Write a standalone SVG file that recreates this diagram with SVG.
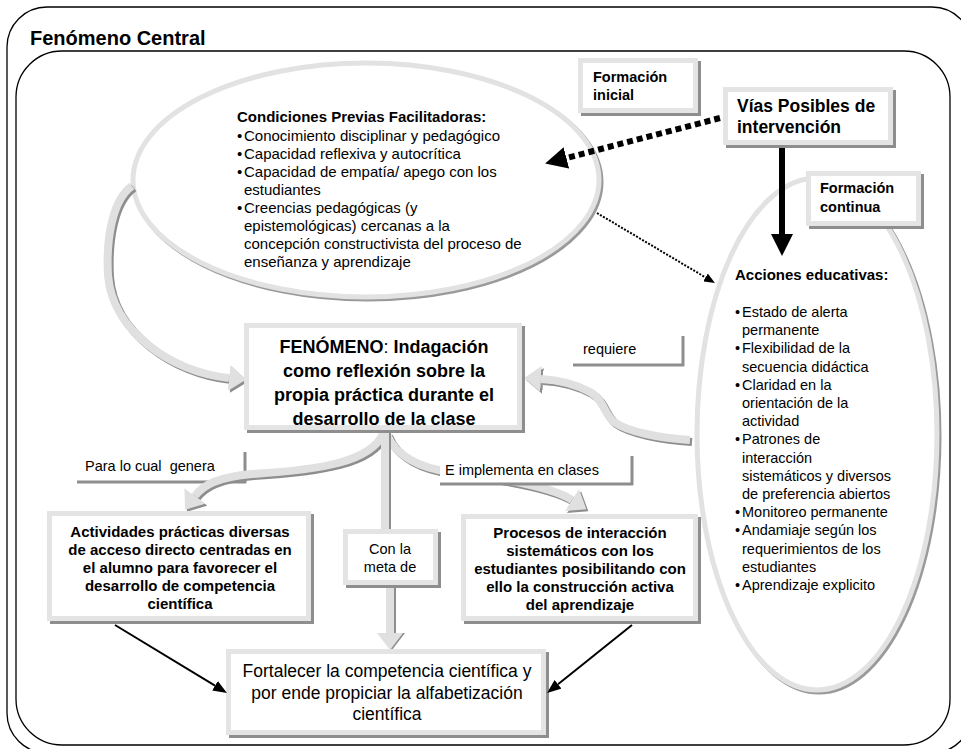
<svg xmlns="http://www.w3.org/2000/svg" width="961" height="749" viewBox="0 0 961 749">
<style>
.t{font-family:"Liberation Sans",Arial,Helvetica,sans-serif;fill:#000}
.b{font-weight:bold}
.frame{fill:none;stroke:#000;stroke-width:1.3}
.bx{fill:#fff;stroke:#e4e4e4;stroke-width:5}
.sh{fill:#8e8e8e}
.el{fill:#fff;stroke:#e2e2e2;stroke-width:5}
.elsh{fill:none;stroke:#9a9a9a;stroke-width:5}
.ga{fill:none;stroke:#e0e0e0;stroke-width:8;marker-end:url(#mgl)}
.gs{fill:none;stroke:#8e8e8e;stroke-width:8;marker-end:url(#mgd)}
.gan{fill:none;stroke:#e0e0e0;stroke-width:8}
.gsn{fill:none;stroke:#8e8e8e;stroke-width:8}
.ll{fill:none;stroke:#8e8e8e;stroke-width:3}
.lw{fill:#fff}
</style>
<defs>
<marker id="mgl" markerUnits="userSpaceOnUse" markerWidth="17" markerHeight="26" viewBox="0 0 17 26" refX="0" refY="13" orient="auto"><path d="M0,0L17,13L0,26z" fill="#e0e0e0"/></marker>
<marker id="mgd" markerUnits="userSpaceOnUse" markerWidth="17" markerHeight="26" viewBox="0 0 17 26" refX="0" refY="13" orient="auto"><path d="M0,0L17,13L0,26z" fill="#8e8e8e"/></marker>
<marker id="mb" markerUnits="userSpaceOnUse" markerWidth="22" markerHeight="22" viewBox="0 0 22 22" refX="0" refY="11" orient="auto"><path d="M0,0L22,11L0,22z" fill="#000"/></marker>
<marker id="mt" markerUnits="userSpaceOnUse" markerWidth="14" markerHeight="11" viewBox="0 0 14 11" refX="0" refY="5.5" orient="auto"><path d="M0,0L14,5.5L0,11z" fill="#000"/></marker>
<marker id="md" markerUnits="userSpaceOnUse" markerWidth="11" markerHeight="9" viewBox="0 0 11 9" refX="0" refY="4.5" orient="auto"><path d="M0,0L11,4.5L0,9z" fill="#000"/></marker>
<path id="pa" d="M132,186 C112,200 106,240 108,275 C112,330 170,372 229,378"/>
<path id="pb" d="M690,440 C660,438 628,432 614,422 C604,414 604,400 590,392 C575,384 560,380 541,379"/>
<path id="pc" d="M383,434 C370,462 320,470 252,474 C218,477 203,485 195,496"/>
<path id="pd" d="M385,432 L385,531"/>
<path id="pe" d="M390,586 L390,633"/>
<path id="pf" d="M387,434 C395,456 420,468 450,472 C500,478 550,486 572,500"/>
</defs>

<g id="frames">
<rect class="frame" x="7" y="7" width="965" height="746" rx="40"/>
<rect class="frame" x="16" y="51" width="934" height="694" rx="46"/>
<text class="t b" x="30" y="45" font-size="20">Fenómeno Central</text>
</g>

<g id="ellipse-condiciones">
<ellipse class="elsh" cx="368" cy="182" rx="233" ry="117"/>
<ellipse class="el" cx="366" cy="180" rx="233" ry="117"/>
</g>
<g id="ellipse-acciones">
<ellipse class="elsh" cx="819" cy="436" rx="120" ry="256"/>
<ellipse class="el" cx="817" cy="434" rx="120" ry="256"/>
</g>

<g id="label-para">
<rect class="lw" x="77" y="452" width="167" height="29"/>
<path class="ll" d="M77,482 H246 M245,452 V483"/>
</g>

<g id="connectors">
<use href="#pa" class="gs" transform="translate(2,2)"/>
<use href="#pa" class="ga"/>
<use href="#pb" class="gs" transform="translate(2,2)"/>
<use href="#pb" class="ga"/>
<use href="#pc" class="gs" transform="translate(2,2)"/>
<use href="#pc" class="ga"/>
<use href="#pf" class="gs" transform="translate(2,2)"/>
<use href="#pf" class="ga"/>
<use href="#pd" class="gsn" transform="translate(2,0)"/>
<use href="#pd" class="gan"/>
<use href="#pe" class="gs" transform="translate(2,0)"/>
<use href="#pe" class="ga"/>
</g>

<g id="box-formacion-inicial">
<rect class="sh" x="581" y="61" width="120" height="55"/>
<rect class="bx" x="580.5" y="60.5" width="115" height="50"/>
<text class="t b" font-size="14.5"><tspan x="593" y="82">Formación</tspan><tspan x="593" y="100">inicial</tspan></text>
</g>
<g id="box-vias">
<rect class="sh" x="726" y="90" width="170" height="58"/>
<rect class="bx" x="725.5" y="89.5" width="165" height="53"/>
<text class="t b" font-size="17.5"><tspan x="737" y="112">Vías Posibles de</tspan><tspan x="737" y="133">intervención</tspan></text>
</g>
<g id="box-formacion-continua">
<rect class="sh" x="809" y="174" width="115" height="55"/>
<rect class="bx" x="808.5" y="173.5" width="110" height="50"/>
<text class="t b" font-size="14.5"><tspan x="820" y="193">Formación</tspan><tspan x="820" y="212">continua</tspan></text>
</g>
<g id="box-fenomeno">
<rect class="sh" x="247" y="326" width="278" height="107"/>
<rect class="bx" x="246.5" y="325.5" width="273" height="102"/>
<text class="t b" font-size="18" text-anchor="middle"><tspan x="384" y="353">FENÓMENO<tspan font-weight="normal">:</tspan> Indagación</tspan><tspan x="384" y="377">como reflexión sobre la</tspan><tspan x="384" y="401">propia práctica durante el</tspan><tspan x="384" y="425">desarrollo de la clase</tspan></text>
</g>
<g id="box-meta">
<rect class="sh" x="346" y="532" width="95" height="56"/>
<rect class="bx" x="345.5" y="531.5" width="90" height="51"/>
<text class="t" font-size="14.5" text-anchor="middle"><tspan x="390" y="554">Con la</tspan><tspan x="390" y="572">meta de</tspan></text>
</g>
<g id="box-actividades">
<rect class="sh" x="50" y="514" width="264" height="110"/>
<rect class="bx" x="49.5" y="513.5" width="259" height="105"/>
<text class="t b" font-size="15" text-anchor="middle"><tspan x="180" y="537">Actividades prácticas diversas</tspan><tspan x="180" y="555">de acceso directo centradas en</tspan><tspan x="180" y="573">el alumno para favorecer el</tspan><tspan x="180" y="591">desarrollo de competencia</tspan><tspan x="180" y="609">científica</tspan></text>
</g>
<g id="box-procesos">
<rect class="sh" x="464" y="517" width="237" height="107"/>
<rect class="bx" x="463.5" y="516.5" width="232" height="102"/>
<text class="t b" font-size="15" text-anchor="middle"><tspan x="580" y="538">Procesos de interacción</tspan><tspan x="580" y="556">sistemáticos con los</tspan><tspan x="580" y="574">estudiantes posibilitando con</tspan><tspan x="580" y="592">ello la construcción activa</tspan><tspan x="580" y="610">del aprendizaje</tspan></text>
</g>
<g id="box-fortalecer">
<rect class="sh" x="229" y="652" width="320" height="86"/>
<rect class="bx" x="228.5" y="651.5" width="315" height="81"/>
<text class="t" font-size="17.5" text-anchor="middle"><tspan x="387" y="677">Fortalecer la competencia científica y</tspan><tspan x="387" y="699">por ende propiciar la alfabetización</tspan><tspan x="387" y="720">científica</tspan></text>
</g>

<g id="label-requiere">
<rect class="lw" x="573" y="336" width="110" height="28"/>
<path class="ll" d="M573,365 H684 M683,336 V366"/>
<text class="t" x="583" y="354" font-size="14.5">requiere</text>
</g>
<g id="label-implementa">
<rect class="lw" x="440" y="455" width="192" height="29"/>
<path class="ll" d="M440,484 H633 M632,456 V485"/>
<text class="t" x="445" y="475" font-size="14.5">E implementa en clases</text>
</g>
<text class="t" x="85" y="471" font-size="14.5">Para lo cual&#160; genera</text>

<g id="black-arrows">
<line x1="720" y1="118" x2="566.4" y2="158" stroke="#000" stroke-width="6" stroke-dasharray="6,4" marker-end="url(#mb)"/>
<line x1="782" y1="148" x2="782" y2="234" stroke="#000" stroke-width="6" marker-end="url(#mb)"/>
<line x1="597" y1="213" x2="705.5" y2="277.4" stroke="#000" stroke-width="2" stroke-dasharray="2,1.5" marker-end="url(#md)"/>
<line x1="115" y1="625" x2="215" y2="685.7" stroke="#000" stroke-width="2" marker-end="url(#mt)"/>
<line x1="632" y1="625" x2="558" y2="684.3" stroke="#000" stroke-width="2" marker-end="url(#mt)"/>
</g>

<g id="text-condiciones" class="t" font-size="15">
<text class="t b" x="237" y="122">Condiciones Previas Facilitadoras:</text>
<text class="t"><tspan x="237" y="141">•</tspan><tspan x="244">Conocimiento disciplinar y pedagógico</tspan></text>
<text class="t"><tspan x="237" y="159">•</tspan><tspan x="244">Capacidad reflexiva y autocrítica</tspan></text>
<text class="t"><tspan x="237" y="177">•</tspan><tspan x="244">Capacidad de empatía/ apego con los</tspan><tspan x="244" y="195">estudiantes</tspan></text>
<text class="t"><tspan x="237" y="213">•</tspan><tspan x="244">Creencias pedagógicas (y</tspan><tspan x="244" y="231">epistemológicas) cercanas a la</tspan><tspan x="244" y="249">concepción constructivista del proceso de</tspan><tspan x="244" y="267">enseñanza y aprendizaje</tspan></text>
</g>

<g id="text-acciones" class="t" font-size="14.5">
<text class="t b" x="735" y="280" font-size="15">Acciones educativas:</text>
<text class="t"><tspan x="735" y="317">•</tspan><tspan x="742">Estado de alerta</tspan><tspan x="742" y="335.2">permanente</tspan></text>
<text class="t"><tspan x="735" y="353.4">•</tspan><tspan x="742">Flexibilidad de la</tspan><tspan x="742" y="371.6">secuencia didáctica</tspan></text>
<text class="t"><tspan x="735" y="389.8">•</tspan><tspan x="742">Claridad en la</tspan><tspan x="742" y="408">orientación de la</tspan><tspan x="742" y="426.2">actividad</tspan></text>
<text class="t"><tspan x="735" y="444.4">•</tspan><tspan x="742">Patrones de</tspan><tspan x="742" y="462.6">interacción</tspan><tspan x="742" y="480.8">sistemáticos y diversos</tspan><tspan x="742" y="499">de preferencia abiertos</tspan></text>
<text class="t"><tspan x="735" y="517.2">•</tspan><tspan x="742">Monitoreo permanente</tspan></text>
<text class="t"><tspan x="735" y="535.4">•</tspan><tspan x="742">Andamiaje según los</tspan><tspan x="742" y="553.6">requerimientos de los</tspan><tspan x="742" y="571.8">estudiantes</tspan></text>
<text class="t"><tspan x="735" y="590">•</tspan><tspan x="742">Aprendizaje explicito</tspan></text>
</g>
</svg>
